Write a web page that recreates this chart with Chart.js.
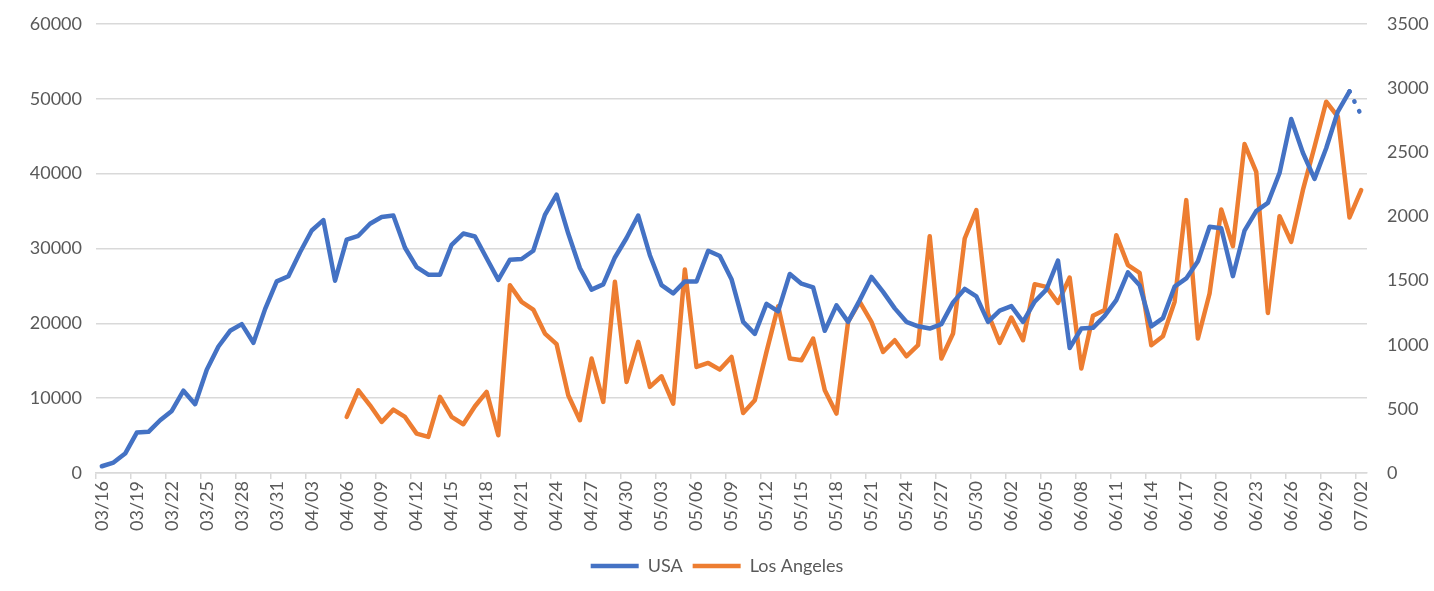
<!DOCTYPE html>
<html>
<head>
<meta charset="utf-8">
<title>USA vs Los Angeles</title>
<script src="https://cdn.jsdelivr.net/npm/chart.js@4/dist/chart.umd.min.js"></script>
<style>
  html, body { margin: 0; padding: 0; background: #fff; }
  #wrap { position: relative; width: 1434px; height: 591px; }
</style>
</head>
<body>
<div id="wrap"><canvas id="dailyChart"></canvas></div>
<script>
// categories: one per day, 03/16 .. 07/02
const dates = [
  '03/16','03/17','03/18','03/19','03/20','03/21','03/22','03/23','03/24','03/25','03/26','03/27','03/28','03/29','03/30','03/31',
  '04/01','04/02','04/03','04/04','04/05','04/06','04/07','04/08','04/09','04/10','04/11','04/12','04/13','04/14','04/15',
  '04/16','04/17','04/18','04/19','04/20','04/21','04/22','04/23','04/24','04/25','04/26','04/27','04/28','04/29','04/30',
  '05/01','05/02','05/03','05/04','05/05','05/06','05/07','05/08','05/09','05/10','05/11','05/12','05/13','05/14','05/15',
  '05/16','05/17','05/18','05/19','05/20','05/21','05/22','05/23','05/24','05/25','05/26','05/27','05/28','05/29','05/30','05/31',
  '06/01','06/02','06/03','06/04','06/05','06/06','06/07','06/08','06/09','06/10','06/11','06/12','06/13','06/14','06/15',
  '06/16','06/17','06/18','06/19','06/20','06/21','06/22','06/23','06/24','06/25','06/26','06/27','06/28','06/29','06/30',
  '07/01','07/02'
];

// USA daily new cases (left axis)
const usaCases = [
  900, 1400, 2600, 5400, 5500, 7050, 8300, 11000, 9200, 13800, 16900, 19000, 19900, 17400, 21900, 25600,
  26300, 29500, 32400, 33800, 25700, 31200, 31700, 33300, 34200, 34400, 30100, 27500, 26500, 26500, 30500,
  32000, 31600, 28700, 25800, 28500, 28600, 29700, 34500, 37200, 32000, 27400, 24500, 25200, 28800, 31400,
  34400, 29100, 25100, 24000, 25600, 25600, 29700, 29000, 25900, 20200, 18600, 22600, 21600, 26600, 25300,
  24800, 19000, 22400, 20200, 23100, 26200, 24200, 22000, 20200, 19600, 19300, 19900, 22800, 24600, 23600, 20200,
  21700, 22300, 20200, 22900, 24500, 28400, 16700, 19300, 19400, 21000, 23100, 26800, 25100, 19600, 20700,
  24900, 26000, 28300, 32900, 32700, 26300, 32400, 35000, 36100, 40100, 47300, 42800, 39300, 43400, 48300,
  51000, 47800
];

// Los Angeles daily new cases (right axis), no data before 04/06
const laCases = [
  null, null, null, null, null, null, null, null, null, null, null, null, null, null, null, null,
  null, null, null, null, null, 437, 645, 528, 398, 494, 437, 307, 281, 593, 437,
  380, 520, 632, 294, 1464, 1334, 1274, 1087, 1004, 606, 411, 892, 554, 1490, 710,
  1022, 671, 754, 541, 1586, 827, 858, 806, 905, 468, 567, 944, 1300, 892, 879,
  1048, 645, 463, 1180, 1334, 1178, 944, 1035, 910, 996, 1846, 892, 1087, 1828, 2049, 1243,
  1014, 1212, 1035, 1472, 1451, 1326, 1524, 814, 1225, 1270, 1854, 1620, 1560, 996, 1066,
  1334, 2127, 1048, 1399, 2054, 1768, 2564, 2348, 1248, 2002, 1802, 2205, 2543, 2894, 2777,
  1992, 2205
];

const leftTicks = [0, 10000, 20000, 30000, 40000, 50000, 60000];
const rightTicks = [0, 500, 1000, 1500, 2000, 2500, 3000, 3500];

const textColor = '#595959';
const gridColor = '#D9D9D9';
const labelFont = { family: 'Lato', size: 18 };

// fixed widths for the side axes, no extra vertical padding from their labels
function fixSide(width) {
    return function(s) {
        s.width = width;
        s.paddingTop = 0;
        s.paddingBottom = 0;
    };
}

const ctx = document.getElementById('dailyChart').getContext('2d');
const chart = new Chart(ctx, {
    type: 'line',
    data: {
        labels: dates,
        datasets: [{
            label: 'USA',
            data: usaCases,
            yAxisID: 'y',
            borderColor: '#4472C4',
            backgroundColor: '#4472C4',
            borderWidth: 4.5,
            borderJoinStyle: 'round',
            borderCapStyle: 'round',
            pointRadius: 0,
            tension: 0,
            segment: {
                // last day is drawn dotted
                borderDash: c => c.p1DataIndex === dates.length - 1 ? [0.5, 10.5] : undefined
            }
        }, {
            label: 'Los Angeles',
            data: laCases,
            yAxisID: 'y2',
            borderColor: '#ED7D31',
            backgroundColor: '#ED7D31',
            borderWidth: 4.5,
            borderJoinStyle: 'round',
            borderCapStyle: 'round',
            pointRadius: 0,
            tension: 0
        }]
    },
    options: {
        responsive: true,
        maintainAspectRatio: false,
        animation: false,
        layout: { padding: { top: 24, left: 0, right: 0, bottom: 6 } },
        plugins: {
            tooltip: { enabled: false },
            legend: {
                position: 'bottom',
                labels: {
                    color: textColor,
                    font: labelFont,
                    boxWidth: 48,
                    boxHeight: 4.5,
                    padding: 10,
                    generateLabels: function(c) {
                        return Chart.defaults.plugins.legend.labels.generateLabels(c).map(function(item) {
                            item.lineWidth = 0;
                            item.lineDash = [];
                            return item;
                        });
                    }
                }
            }
        },
        scales: {
            x: {
                offset: true,
                afterFit: s => { s.height = 74; },
                border: { display: true, color: gridColor, width: 1.5 },
                grid: {
                    offset: true,
                    drawOnChartArea: false,
                    drawTicks: true,
                    tickLength: 6,
                    lineWidth: 1.5,
                    color: c => (c.index !== undefined && c.index % 3 === 0) ? gridColor : 'rgba(0,0,0,0)'
                },
                ticks: {
                    autoSkip: false,
                    minRotation: 90,
                    maxRotation: 90,
                    padding: 2,
                    color: textColor,
                    font: labelFont,
                    callback: function(value, index) {
                        return index % 3 === 0 ? this.getLabelForValue(value) : '';
                    }
                }
            },
            y: {
                position: 'left',
                min: leftTicks[0],
                max: leftTicks[leftTicks.length - 1],
                afterFit: fixSide(96),
                afterBuildTicks: s => { s.ticks = leftTicks.map(v => ({ value: v })); },
                border: { display: false },
                grid: { color: gridColor, lineWidth: 1.5, drawTicks: false },
                ticks: { padding: 14, color: textColor, font: labelFont, callback: v => String(v) }
            },
            y2: {
                position: 'right',
                min: rightTicks[0],
                max: rightTicks[rightTicks.length - 1],
                afterFit: fixSide(67),
                afterBuildTicks: s => { s.ticks = rightTicks.map(v => ({ value: v })); },
                border: { display: false },
                grid: { drawOnChartArea: false, drawTicks: false },
                ticks: { padding: 20, color: textColor, font: labelFont, callback: v => String(v) }
            }
        }
    }
});
</script>
</body>
</html>
